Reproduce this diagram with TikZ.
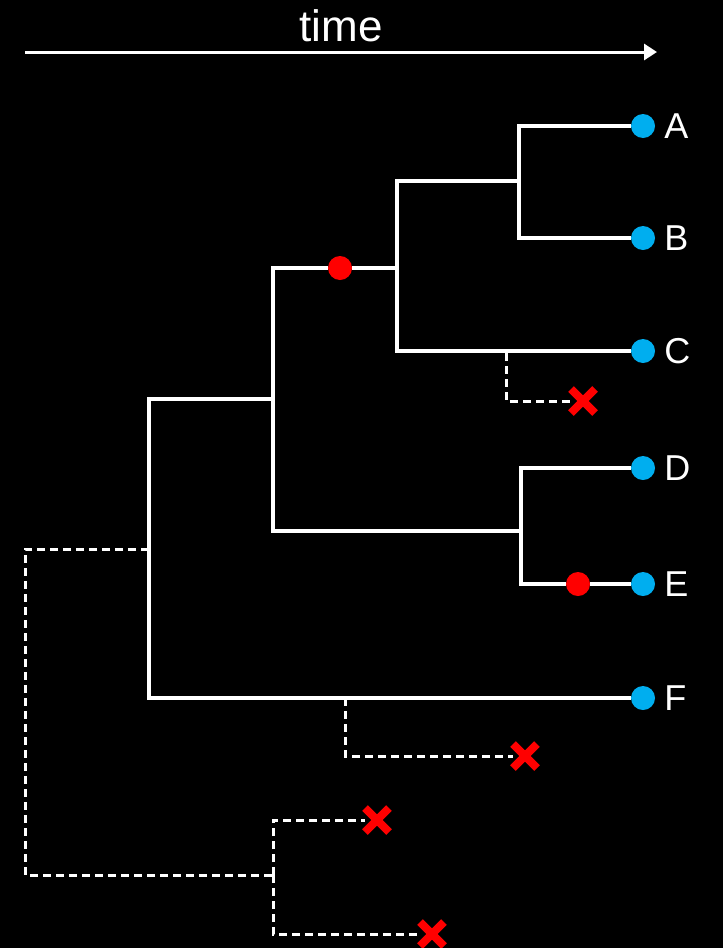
\documentclass[tikz,border=0pt]{standalone}
\usepackage{fontspec}
\setmainfont{Liberation Sans}
\usetikzlibrary{arrows.meta,shapes.misc}
\definecolor{tipblue}{RGB}{0,174,239}
\tikzset{
  branch/.style={draw=white, line width=3.8pt},
  lost/.style={draw=white, line width=3pt, dash pattern=on 8pt off 5pt},
  taxon/.style={circle, fill=tipblue, minimum size=24pt, inner sep=0pt,
    label={[text=white, font=\fontsize{36}{40}\selectfont, inner sep=0pt, label distance=9pt]right:#1}},
  mutation/.style={circle, fill=red, minimum size=24pt, inner sep=0pt},
  extinct/.style={cross out, draw=red, line width=8pt, minimum size=16pt, inner sep=0pt}
}
\begin{document}
\begin{tikzpicture}[x=1pt, y=-1pt]
      \fill[black] (0,0) rectangle (723,948);
      \useasboundingbox (0,0) rectangle (723,948);
      % time axis
      \coordinate (t0) at (25,52);
      \coordinate (t1) at (657,52);
      \node[text=white, font=\fontsize{44}{48}\selectfont] (time) at (341,26) {time};
      \draw[branch, line width=3pt, -{Triangle[length=13pt, width=16pt]}] (t0) -- (t1);
      % tips
      \draw
        (643,126) node[taxon=A] (A){}
        (643,238) node[taxon=B] (B){}
        (643,351) node[taxon=C] (C){}
        (643,468) node[taxon=D] (D){}
        (643,584) node[taxon=E] (E){}
        (643,698) node[taxon=F] (F){};
      % internal nodes
      \draw
        (519,181) coordinate (AB)
        (397,268) coordinate (ABC)
        (521,531) coordinate (DE)
        (273,399) coordinate (ABCDE)
        (149,549) coordinate (root)
        (25,549) coordinate (stem)
        (273,875) coordinate (old)
        (506,353) coordinate (c1)
        (345,698) coordinate (f1);
      % extinct lineages
      \draw
        (583,401) node[extinct] (x1){}
        (525,756) node[extinct] (x2){}
        (377,820) node[extinct] (x3){}
        (432,934) node[extinct] (x4){};
      % mutations
      \draw
        (340,268) node[mutation] (m1){}
        (578,584) node[mutation] (m2){};
      \begin{scope}[branch]
        \draw (AB) |- (A);
        \draw (AB) |- (B);
        \draw (ABC) |- (AB);
        \draw (ABC) |- (C);
        \draw (DE) |- (D);
        \draw (DE) |- (m2) -- (E);
        \draw (ABCDE) |- (m1) -- (ABC);
        \draw (ABCDE) |- (DE);
        \draw (root) |- (ABCDE);
        \draw (root) |- (F);
      \end{scope}
      \begin{scope}[lost]
        \draw (c1) |- (x1);
        \draw (f1) |- (x2);
        \draw (root) -- (stem) |- (old);
        \draw (old) |- (x3);
        \draw (old) |- (x4);
      \end{scope}
    \end{tikzpicture}
\end{document}
